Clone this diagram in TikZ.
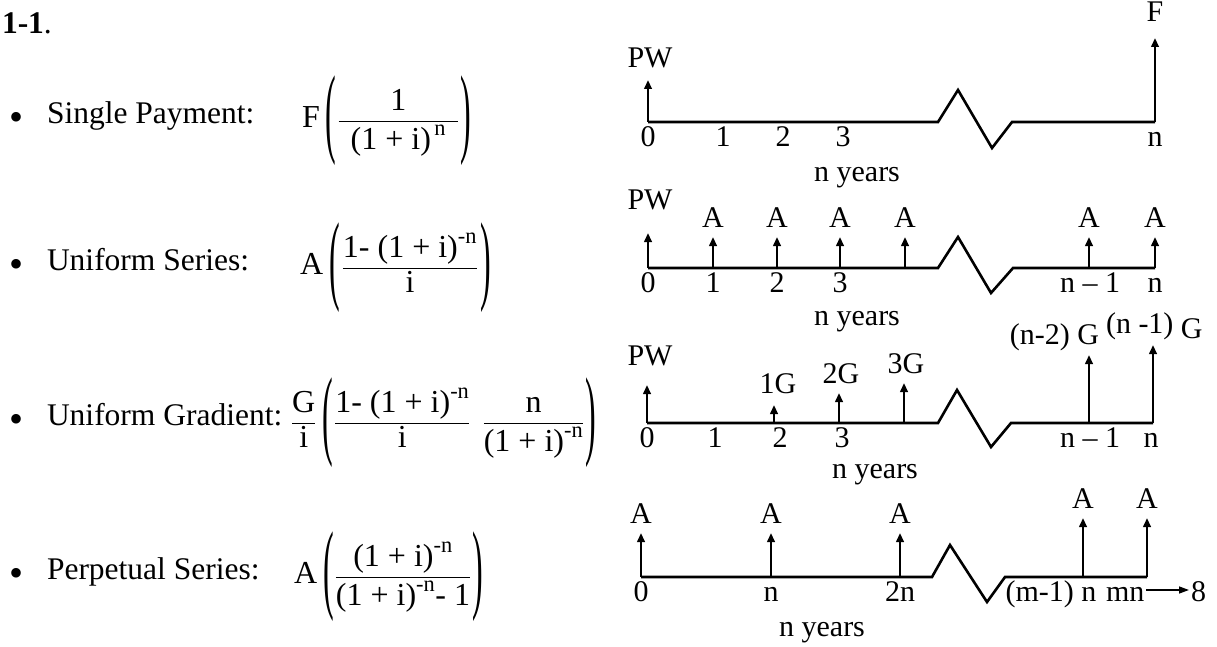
\documentclass[tikz,border=0pt]{standalone}
\usepackage{amsmath}
\usepackage{graphicx}
\usepackage{fontspec}
\setmainfont{Liberation Serif}
\usetikzlibrary{arrows.meta}
\newcommand{\lp}{\vcenter{\hbox{\scalebox{1}[3.1]{(}}}}
\newcommand{\rp}{\vcenter{\hbox{\scalebox{1}[3.1]{)}}}}
\begin{document}
\begin{tikzpicture}[x=1pt,y=-1pt,
  every node/.style={inner sep=0pt, outer sep=0pt},
  txt/.style={font=\fontsize{31.5}{38}\selectfont, text height=0.7em, text depth=0.22em},
  bul/.style={font=\fontsize{40}{40}\selectfont},
  fm/.style={font=\fontsize{32}{38}\selectfont, anchor=west},
  tl/.style={font=\fontsize{30}{36}\selectfont, text height=0.68em, text depth=0.2em},
  axisline/.style={line width=2.6pt, line join=miter},
  pay/.style={line width=2.2pt, -{Triangle[length=9pt,width=7.5pt]}},
  thinarrow/.style={line width=1.4pt, -{Triangle[length=10pt,width=7pt]}},
]
\useasboundingbox (0,0) rectangle (1217,647);

% ---------- left column ----------
\node[txt, anchor=west] (title) at (2,31) {\textbf{1-1}.};

\node[bul] (b1) at (17,121) {•};
\node[txt, anchor=west] (l1) at (47,121) {Single Payment:};
\node[fm] (f1) at (302,121) {$\displaystyle \text{F}\hspace{6pt}\lp\hspace{1pt}\frac{\text{1}}{\hspace{12pt}\text{(1 + i)}^{\,\text{n}}\hspace{12pt}}\hspace{1pt}\rp$};

\node[bul] (b2) at (17,268) {•};
\node[txt, anchor=west] (l2) at (47,268) {Uniform Series:};
\node[fm] (f2) at (300,268) {$\displaystyle \text{A}\hspace{6pt}\lp\hspace{2pt}\frac{\text{1- (1 + i)}^{\text{-n}}}{\text{i}}\hspace{2pt}\rp$};

\node[bul] (b3) at (17,423) {•};
\node[txt, anchor=west] (l3) at (47,423) {Uniform Gradient:};
\node[fm] (f3) at (291,423) {$\displaystyle \frac{\text{G}}{\text{i}}\hspace{6pt}\lp\hspace{1pt}\frac{\text{1- (1 + i)}^{\text{-n}}}{\text{i}}\hspace{12pt}\frac{\hspace{8pt}\text{n}\hspace{8pt}}{\text{(1 + i)}^{\text{-n}}}\hspace{1pt}\rp$};

\node[bul] (b4) at (17,577) {•};
\node[txt, anchor=west] (l4) at (47,577) {Perpetual Series:};
\node[fm] (f4) at (294,577) {$\displaystyle \text{A}\hspace{6pt}\lp\hspace{1pt}\frac{\text{(1 + i)}^{\text{-n}}}{\text{(1 + i)}^{\text{-n}}\text{- 1}}\hspace{1pt}\rp$};

% ---------- timeline 1 ----------
\coordinate (a1s) at (648,122);
\coordinate (a1z1) at (938,122);
\coordinate (a1z2) at (958,90);
\coordinate (a1z3) at (992,148);
\coordinate (a1z4) at (1012,122);
\coordinate (a1e) at (1155,122);
\draw[axisline] (a1s) -- (a1z1) -- (a1z2) -- (a1z3) -- (a1z4) -- (a1e);
\coordinate (a1t0) at (648,80);
\coordinate (a1tn) at (1155,38);
\draw[pay] (a1s) -- (a1t0);
\draw[pay] (a1e) -- (a1tn);
\node[tl] (pw1) at (650,65) {PW};
\node[tl] (F1) at (1155,19) {F};
\node[tl] (k10) at (648,144) {0};
\node[tl] (k11) at (723,144) {1};
\node[tl] (k12) at (783,144) {2};
\node[tl] (k13) at (843,144) {3};
\node[tl] (k1n) at (1155,144) {n};
\node[tl] (ny1) at (857,179) {n years};

% ---------- timeline 2 ----------
\coordinate (a2s) at (648,268);
\coordinate (a2z1) at (938,268);
\coordinate (a2z2) at (958,237);
\coordinate (a2z3) at (991,293);
\coordinate (a2z4) at (1013,268);
\coordinate (a2e) at (1155,268);
\draw[axisline] (a2s) -- (a2z1) -- (a2z2) -- (a2z3) -- (a2z4) -- (a2e);
\coordinate (a2t0) at (648,233);
\draw[pay] (a2s) -- (a2t0);
\node[tl] (pw2) at (650,207) {PW};
\foreach \x/\n in {713/1,777/2,840/3,905/4,1089/5,1155/6}{
  \coordinate (a2b\n) at (\x,268);
  \coordinate (a2t\n) at (\x,237);
  \draw[pay] (a2b\n) -- (a2t\n);
  \node[tl] (A2\n) at (\x,225) {A};
}
\node[tl] (k20) at (648,290) {0};
\node[tl] (k21) at (713,290) {1};
\node[tl] (k22) at (777,290) {2};
\node[tl] (k23) at (840,290) {3};
\node[tl] (k2m) at (1090,290) {n – 1};
\node[tl] (k2n) at (1155,290) {n};
\node[tl] (ny2) at (857,323) {n years};

% ---------- timeline 3 ----------
\coordinate (a3s) at (647,423);
\coordinate (a3z1) at (938,423);
\coordinate (a3z2) at (957,390);
\coordinate (a3z3) at (991,447);
\coordinate (a3z4) at (1011,423);
\coordinate (a3e) at (1153,423);
\draw[axisline] (a3s) -- (a3z1) -- (a3z2) -- (a3z3) -- (a3z4) -- (a3e);
\coordinate (a3t0) at (647,385);
\draw[pay] (a3s) -- (a3t0);
\node[tl] (pw3) at (650,363) {PW};
\coordinate (a3b2) at (774,423); \coordinate (a3t2) at (774,405);
\coordinate (a3b3) at (839,423); \coordinate (a3t3) at (839,393);
\coordinate (a3b4) at (904,423); \coordinate (a3t4) at (904,383);
\coordinate (a3bm) at (1089,423); \coordinate (a3tm) at (1089,355);
\coordinate (a3tn) at (1153,345);
\draw[pay] (a3b2) -- (a3t2);
\draw[pay] (a3b3) -- (a3t3);
\draw[pay] (a3b4) -- (a3t4);
\draw[pay] (a3bm) -- (a3tm);
\draw[pay] (a3e) -- (a3tn);
\node[tl] (g1) at (778,391) {1G};
\node[tl] (g2) at (841,381) {2G};
\node[tl] (g3) at (906,371) {3G};
\node[tl, anchor=east] (gm) at (1099,342) {(n-2) G};
\node[tl, anchor=west] (gn) at (1106,336) {\raisebox{5pt}{(n -1)} G};
\node[tl] (k30) at (647,445) {0};
\node[tl] (k31) at (715,445) {1};
\node[tl] (k32) at (780,445) {2};
\node[tl] (k33) at (842,445) {3};
\node[tl] (k3m) at (1090,445) {n – 1};
\node[tl] (k3n) at (1151,445) {n};
\node[tl] (ny3) at (875,476) {n years};

% ---------- timeline 4 ----------
\coordinate (a4s) at (641,577);
\coordinate (a4z1) at (932,577);
\coordinate (a4z2) at (950,545);
\coordinate (a4z3) at (987,602);
\coordinate (a4z4) at (1005,577);
\coordinate (a4e) at (1147,577);
\draw[axisline] (a4s) -- (a4z1) -- (a4z2) -- (a4z3) -- (a4z4) -- (a4e);
\foreach \x/\n/\t/\l in {641/1/533/521,771/2/533/521,900/3/533/521,1083/4/518/506,1147/5/518/506}{
  \coordinate (a4b\n) at (\x,577);
  \coordinate (a4t\n) at (\x,\t);
  \draw[pay] (a4b\n) -- (a4t\n);
  \node[tl] (A4\n) at (\x,\l) {A};
}
\node[tl] (k40) at (641,599) {0};
\node[tl] (k41) at (771,599) {n};
\node[tl] (k42) at (900,599) {2n};
\node[tl] (k4m) at (1051,599) {(m-1) n};
\node[tl, anchor=west] (k4mn) at (1106,599) {mn};
\node[tl, anchor=east] (k4inf) at (1206,599) {8};
\draw[thinarrow] ([shift={(2pt,-9)}]k4mn.east) -- ([shift={(-2pt,-9)}]k4inf.west);
\node[tl] (ny4) at (822,634) {n years};
\end{tikzpicture}
\end{document}
